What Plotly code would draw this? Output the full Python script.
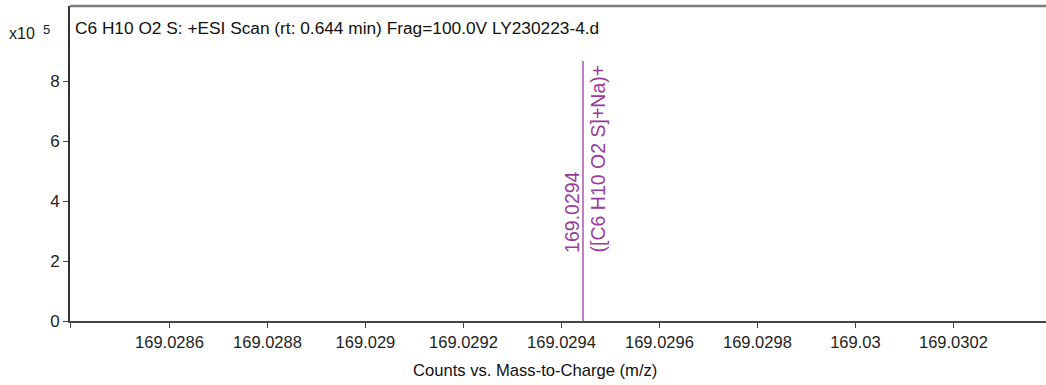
import plotly.graph_objects as go

# Data (intensity in units of 10^5 counts)
peak_mz = [169.029444]
peak_intensity = [8.67]
peak_label = ["169.0294"]
peak_ion = ["([C6 H10 O2 S]+Na)+"]

x_range = [169.028397, 169.030389]
y_range = [0, 10.5]
x_tickvals = [169.0286, 169.0288, 169.0290, 169.0292, 169.0294, 169.0296, 169.0298, 169.0300, 169.0302]
x_ticktext = ["169.0286", "169.0288", "169.029", "169.0292", "169.0294", "169.0296", "169.0298", "169.03", "169.0302"]
y_tickvals = [0, 2, 4, 6, 8]

title_text = "C6 H10 O2 S: +ESI Scan (rt: 0.644 min) Frag=100.0V LY230223-4.d"
x_title = "Counts vs. Mass-to-Charge (m/z)"

PURPLE = "#9a3c9c"
FONT = "Liberation Sans, Arial, sans-serif"

fig = go.Figure()
for mz, inten in zip(peak_mz, peak_intensity):
    fig.add_trace(go.Scatter(x=[mz, mz], y=[0, inten], mode="lines",
                             line=dict(color=PURPLE, width=1.3), hoverinfo="skip",
                             showlegend=False))

for mz, inten, lab, ion in zip(peak_mz, peak_intensity, peak_label, peak_ion):
    fig.add_annotation(x=mz, y=2.22, text=lab, textangle=-90, showarrow=False,
                       xanchor="center", yanchor="bottom", xshift=-11,
                       font=dict(family=FONT, size=19.5, color=PURPLE))
    fig.add_annotation(x=mz, y=2.22, text=ion, textangle=-90, showarrow=False,
                       xanchor="center", yanchor="bottom", xshift=15,
                       font=dict(family=FONT, size=19.5, color=PURPLE))

fig.add_annotation(xref="paper", yref="paper", x=0.003, y=0.93, text=title_text,
                   showarrow=False, xanchor="left", yanchor="middle",
                   font=dict(family=FONT, size=17.3, color="#111"))
fig.add_annotation(xref="paper", yref="paper", x=(535 - 70) / 976, y=-0.157,
                   text=x_title, showarrow=False, xanchor="center", yanchor="middle",
                   font=dict(family=FONT, size=16.6, color="#111"))
# y-axis multiplier "x10^5"
fig.add_annotation(xref="paper", yref="paper", x=-(70 - 7) / 976, y=(321 - 33) / 315,
                   text="x10", showarrow=False, xanchor="left", yanchor="middle",
                   font=dict(family=FONT, size=16, color="#222"))
fig.add_annotation(xref="paper", yref="paper", x=-(70 - 46) / 976, y=(321 - 30) / 315,
                   text="5", showarrow=False, xanchor="center", yanchor="middle",
                   font=dict(family=FONT, size=13, color="#222"))
# top frame line
fig.add_shape(type="line", xref="paper", yref="paper", x0=0, x1=1, y0=1, y1=1,
              line=dict(color="#7a7a7a", width=2.5))

fig.update_layout(
    width=1046, height=385,
    margin=dict(l=70, r=0, t=6, b=64),
    paper_bgcolor="white", plot_bgcolor="white",
    font=dict(family=FONT, size=16, color="#222"),
    showlegend=False,
)
fig.update_xaxes(range=x_range, tickvals=[x_range[0]] + x_tickvals, ticktext=[""] + x_ticktext,
                 showgrid=False, zeroline=False, showline=True, linecolor="#444", linewidth=2,
                 ticks="outside", ticklen=5, tickcolor="#444",
                 tickfont=dict(family=FONT, size=16.5, color="#222"))
fig.update_yaxes(range=y_range, tickvals=y_tickvals, showgrid=False, zeroline=False,
                 showline=True, linecolor="#333", linewidth=2, ticks="outside", ticklen=5,
                 tickcolor="#444", tickfont=dict(family=FONT, size=17, color="#222"))

fig.write_html("out.html")
